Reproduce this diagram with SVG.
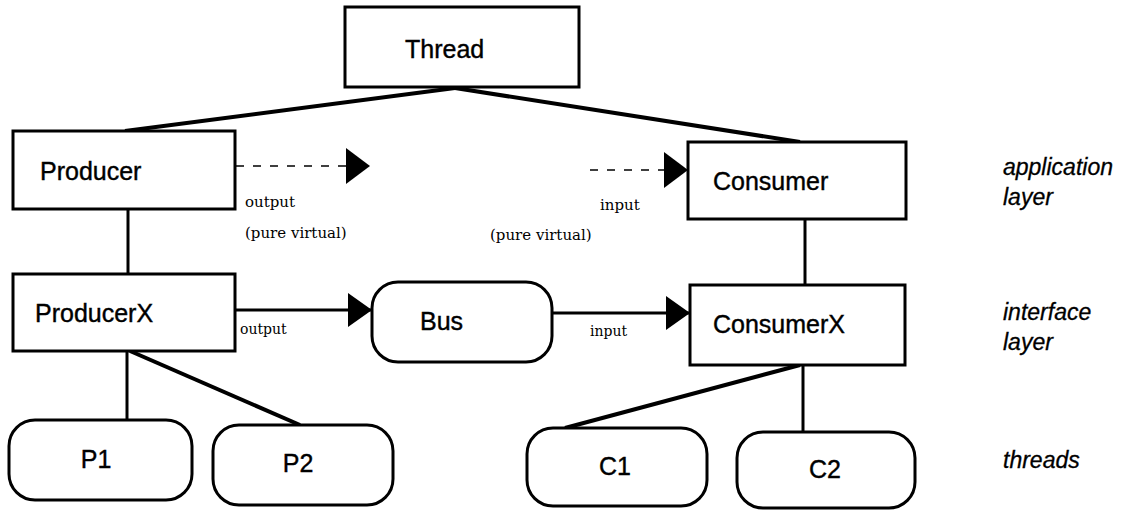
<svg xmlns="http://www.w3.org/2000/svg" width="1122" height="512" viewBox="0 0 1122 512">
<defs>
<style>
.box{fill:#fff;stroke:#000;stroke-width:3}
.lbl{font-family:"Liberation Sans",Arial,sans-serif;font-size:25px;fill:#000;stroke:#000;stroke-width:0.4}
.ctr{text-anchor:middle}
.lay{font-family:"Liberation Sans",Arial,sans-serif;font-size:23px;font-style:italic;fill:#000;stroke:#000;stroke-width:0.3}
.ser{font-family:"DejaVu Serif","Liberation Serif",serif;font-size:15px;fill:#000}
.ln{stroke:#000;stroke-width:3;fill:none}
.thk{stroke:#000;stroke-width:4;fill:none}
.dash{stroke:#000;stroke-width:1.4;stroke-dasharray:8 9;fill:none}
</style>
<marker id="ah" markerUnits="userSpaceOnUse" markerWidth="26" markerHeight="36" refX="24" refY="18" orient="auto">
<path d="M0,1 L24,18 L0,35 z" fill="#000"/>
</marker>
</defs>
<rect width="1122" height="512" fill="#fff"/>
<g id="connectors">
<line class="thk" x1="455" y1="88" x2="125" y2="131"/>
<line class="thk" x1="455" y1="88" x2="800" y2="142"/>
<line class="ln" x1="128" y1="209" x2="128" y2="274"/>
<line class="ln" x1="805" y1="219" x2="805" y2="285"/>
<line class="ln" x1="127" y1="351" x2="127" y2="420"/>
<line class="thk" x1="130" y1="351" x2="300" y2="425"/>
<line class="thk" x1="800" y1="365" x2="565" y2="428"/>
<line class="ln" x1="803" y1="365" x2="803" y2="432"/>
<line class="dash" x1="236" y1="166" x2="350" y2="166"/>
<path d="M346,148 L370,166 L346,184 z" fill="#000"/>
<line class="dash" x1="590" y1="170" x2="668" y2="170"/>
<path d="M664,152 L688,170 L664,188 z" fill="#000"/>
<line class="ln" x1="235" y1="310" x2="372" y2="310" marker-end="url(#ah)"/>
<line class="ln" x1="552" y1="313" x2="690" y2="313" marker-end="url(#ah)"/>
<text class="ser" x="245" y="207">output</text>
<text class="ser" x="245" y="238">(pure virtual)</text>
<text class="ser" x="600" y="210">input</text>
<text class="ser" x="490" y="240">(pure virtual)</text>
<text class="ser" x="240" y="334" style="font-size:14px">output</text>
<text class="ser" x="590" y="336" style="font-size:14px">input</text>
</g>
<g id="thread"><rect class="box" x="345" y="7" width="234" height="80"/><text class="lbl" x="405" y="58">Thread</text></g>
<g id="producer"><rect class="box" x="13" y="131" width="222" height="78"/><text class="lbl" x="40" y="180">Producer</text></g>
<g id="consumer"><rect class="box" x="688" y="142" width="218" height="77"/><text class="lbl" x="713" y="190">Consumer</text></g>
<g id="producerx"><rect class="box" x="13" y="274" width="222" height="77"/><text class="lbl" x="35" y="322">ProducerX</text></g>
<g id="bus"><rect class="box" x="372" y="282" width="180" height="80" rx="26"/><text class="lbl" x="420" y="330">Bus</text></g>
<g id="consumerx"><rect class="box" x="690" y="285" width="215" height="80"/><text class="lbl" x="713" y="333">ConsumerX</text></g>
<g id="p1"><rect class="box" x="9" y="420" width="183" height="80" rx="26"/><text class="lbl ctr" x="96" y="468">P1</text></g>
<g id="p2"><rect class="box" x="213" y="425" width="180" height="80" rx="26"/><text class="lbl ctr" x="298" y="472">P2</text></g>
<g id="c1"><rect class="box" x="527" y="428" width="180" height="78" rx="26"/><text class="lbl ctr" x="615" y="475">C1</text></g>
<g id="c2"><rect class="box" x="737" y="432" width="178" height="76" rx="26"/><text class="lbl ctr" x="825" y="478">C2</text></g>
<g id="layers">
<text class="lay" x="1003" y="175">application</text>
<text class="lay" x="1003" y="205">layer</text>
<text class="lay" x="1003" y="320">interface</text>
<text class="lay" x="1003" y="350">layer</text>
<text class="lay" x="1003" y="468">threads</text>
</g>
</svg>
